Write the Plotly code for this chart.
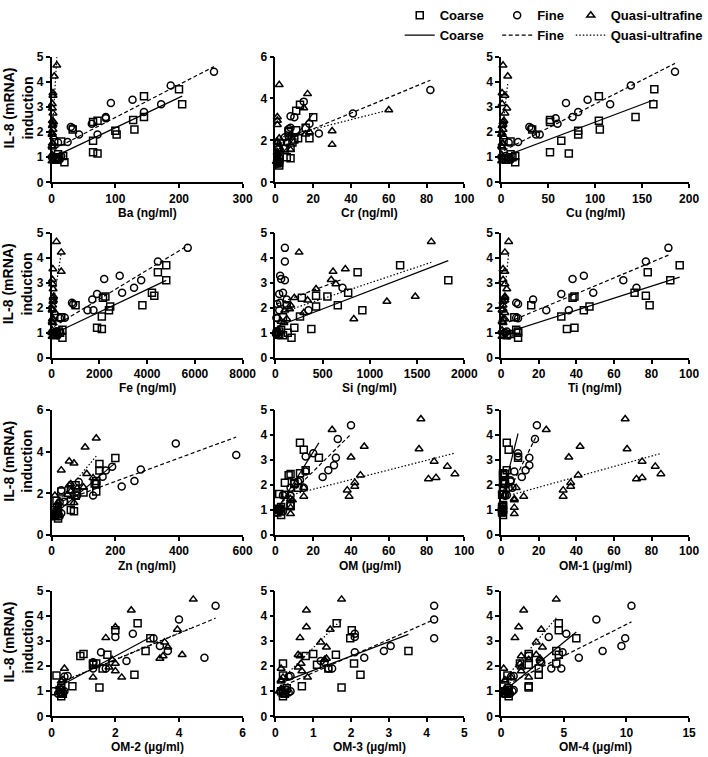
import numpy as np
import plotly.graph_objects as go

W, H = 708, 757

# ---- IL-8 (mRNA) induction values per sample (shared by all panels) ----
coarse_y = [3.70, 3.42, 3.10, 2.60, 2.48, 2.45, 2.40, 2.10, 2.10, 2.05, 1.90,
            1.65, 1.62, 1.20, 1.15, 1.12, 1.05, 1.00, 0.95, 0.90, 0.80]
fine_y = [4.40, 3.85, 3.28, 3.15, 3.10, 2.80, 2.60, 2.55, 2.33, 2.20, 2.15,
          1.90, 1.90, 1.60, 1.58, 1.05, 1.00, 0.95, 0.90]
quasi_y = [4.65, 4.22, 3.55, 3.45, 3.12, 2.95, 2.75, 2.45, 2.40, 2.30, 2.25,
           2.10, 1.95, 1.90, 1.80, 1.55, 1.55, 1.45, 1.40, 1.10, 1.00, 0.85]

# ---- constituent concentrations (x) per panel ----
ba_c = [200, 145, 205, 145, 128, 72, 65, 130, 33, 100, 102, 65, 15, 65, 72, 10, 18, 12, 8, 5, 20]
ba_f = [255, 187, 127, 93, 172, 145, 85, 85, 63, 30, 33, 43, 72, 25, 10, 15, 8, 5, 12]
ba_q = [8, 4, 2, 2, 1, 1, 2, 1, 3, 2, 1, 2, 1, 0.5, 3, 2, 1, 0.5, 1, 0.5, 1, 0.5]

cr_c = [13, 11, 20, 16, 11, 7, 7, 12, 18, 10, 9, 8, 5, 6, 8, 2, 1, 1, 2, 1, 2]
cr_f = [82, 15, 41, 8, 10, 18, 8, 7, 23, 7, 5, 3, 6, 2, 1, 1, 1, 2, 1]
cr_q = [2, 17, 15, 60, 1, 1, 1, 30, 18, 16, 8, 2, 1, 1, 30, 8, 3, 1, 1, 1, 0.5, 1]

cu_c = [163, 104, 162, 143, 52, 104, 52, 105, 33, 82, 82, 64, 10, 52, 72, 10, 15, 12, 8, 5, 15]
cu_f = [185, 138, 92, 69, 116, 82, 76, 58, 60, 30, 32, 37, 41, 18, 8, 5, 7, 3, 10]
cu_q = [2, 7, 1, 4, 1, 6, 4, 3, 2, 2, 1, 2, 1, 0.5, 3, 2, 1, 0.5, 1, 0.5, 1, 0.5]

fe_c = [4800, 4450, 4800, 4200, 4300, 2250, 2150, 3800, 1000, 2450, 2400, 2100, 400, 1900, 2100, 450, 300, 350, 200, 100, 450]
fe_f = [5700, 4450, 2850, 2200, 3750, 3450, 2950, 1900, 1700, 850, 900, 1500, 1750, 550, 350, 200, 150, 100, 250]
fe_q = [200, 400, 50, 400, 30, 40, 60, 80, 60, 70, 50, 40, 30, 20, 150, 60, 30, 20, 30, 20, 10, 20]

si_c = [1320, 870, 1830, 770, 430, 550, 280, 660, 120, 430, 920, 260, 80, 200, 380, 60, 40, 130, 30, 80, 170]
si_f = [100, 100, 50, 60, 100, 710, 80, 40, 120, 50, 20, 350, 40, 10, 20, 10, 20, 5, 30]
si_q = [1650, 250, 740, 610, 590, 640, 430, 1480, 200, 340, 1180, 160, 150, 100, 300, 830, 120, 60, 90, 30, 20, 40]

ti_c = [95, 78, 90, 71, 77, 39, 38, 79, 16, 47, 44, 32, 7, 39, 35, 8, 9, 9, 5, 3, 9]
ti_f = [89, 77, 44, 38, 65, 72, 49, 32, 17, 8, 9, 24, 36, 8, 9, 3, 2, 1, 4]
ti_q = [4, 2, 1, 2, 1, 2, 3, 2, 2, 2, 1, 1, 1, 0.5, 2, 2, 1, 0.5, 1, 0.5, 1, 0.5]

zn_c = [200, 150, 150, 140, 135, 140, 75, 140, 30, 100, 75, 15, 60, 60, 70, 15, 20, 15, 10, 10, 20]
zn_f = [390, 580, 190, 280, 170, 160, 260, 85, 220, 60, 30, 130, 80, 40, 25, 30, 20, 15, 25]
zn_q = [140, 105, 55, 70, 30, 110, 130, 60, 55, 100, 80, 60, 50, 10, 75, 70, 20, 15, 20, 10, 10, 10]

om_c = [13, 15, 23, 16, 13, 8, 7, 10, 5, 10, 12, 2, 5, 8, 8, 3, 2, 2, 3, 1, 3]
om_f = [40, 33, 20, 16, 32, 31, 28, 16, 25, 13, 12, 15, 8, 4, 8, 3, 2, 4, 1]
om_q = [77, 30, 47, 76, 40, 84, 91, 95, 45, 85, 81, 42, 42, 15, 38, 39, 15, 8, 9, 8, 2, 8]

om1_c = [3, 4, 9, 3, 1, 2, 1, 2, 1, 2, 1, 1, 0.5, 1, 1, 0.5, 0.5, 1, 0.5, 0.5, 1]
om1_f = [19, 18, 9, 9, 15, 15, 13, 7, 11, 5, 5, 4, 6, 3, 2, 1, 1, 0.5, 1]
om1_q = [66, 24, 42, 67, 36, 75, 82, 85, 41, 75, 72, 37, 37, 8, 33, 33, 12, 7, 7, 7, 1, 7]

om2_c = [2.7, 2.0, 3.1, 2.95, 1.0, 1.75, 0.9, 1.3, 1.4, 1.3, 1.6, 2.6, 0.15, 0.65, 1.5, 0.3, 0.25, 0.1, 0.3, 0.35, 0.3]
om2_f = [5.15, 4.0, 2.55, 2.0, 3.2, 3.4, 3.65, 1.55, 4.8, 2.35, 1.3, 1.7, 1.3, 0.5, 0.4, 0.3, 0.4, 0.3, 0.2]
om2_q = [4.45, 2.5, 2.0, 3.95, 1.7, 3.55, 3.65, 4.1, 3.5, 3.4, 1.9, 2.0, 1.8, 0.4, 2.0, 2.2, 1.3, 0.35, 0.3, 0.3, 0.25, 0.3]

om3_c = [1.62, 2.02, 1.98, 3.52, 1.0, 1.6, 0.8, 2.08, 0.2, 1.1, 1.4, 2.25, 0.2, 0.7, 1.75, 0.3, 0.25, 0.15, 0.2, 0.25, 0.2]
om3_f = [4.2, 4.2, 2.1, 2.1, 4.2, 3.05, 2.87, 2.1, 2.35, 1.2, 1.3, 1.5, 1.4, 0.4, 0.35, 0.3, 0.4, 0.35, 0.25]
om3_q = [1.75, 0.82, 0.82, 1.45, 0.65, 1.2, 1.35, 0.6, 0.65, 1.35, 1.3, 0.68, 0.6, 0.15, 0.7, 0.85, 0.2, 0.15, 0.15, 0.15, 0.1, 0.2]

om4_c = [4.6, 4.6, 6.0, 4.4, 2.2, 4.6, 2.2, 4.4, 1.5, 2.2, 3.0, 3.0, 0.5, 2.2, 2.2, 0.6, 0.5, 0.3, 0.6, 0.4, 0.6]
om4_f = [10.4, 7.6, 5.2, 3.8, 9.9, 9.6, 8.1, 4.9, 6.2, 3.1, 3.2, 4.0, 4.8, 1.0, 0.8, 1.0, 0.9, 0.5, 0.7]
om4_q = [4.4, 1.8, 1.4, 3.2, 1.1, 2.8, 3.3, 2.8, 1.6, 3.1, 2.2, 1.5, 1.6, 0.2, 1.6, 2.2, 0.8, 0.3, 0.3, 0.3, 0.2, 0.3]

panel_titles = ["Ba (ng/ml)", "Cr (ng/ml)", "Cu (ng/ml)",
                "Fe (ng/ml)", "Si (ng/ml)", "Ti (ng/ml)",
                "Zn (ng/ml)", "OM (µg/ml)", "OM-1 (µg/ml)",
                "OM-2 (µg/ml)", "OM-3 (µg/ml)", "OM-4 (µg/ml)"]
x_max = [300, 100, 200, 8000, 2000, 100, 600, 100, 100, 6, 5, 15]
x_dtick = [100, 20, 50, 2000, 500, 20, 200, 20, 20, 2, 1, 5]
y_max = [5, 6, 5, 5, 5, 5, 6, 5, 5, 5, 5, 5]
y_dtick = [1, 2, 1, 1, 1, 1, 2, 1, 1, 1, 1, 1]
panel_x = [(ba_c, ba_f, ba_q), (cr_c, cr_f, cr_q), (cu_c, cu_f, cu_q),
           (fe_c, fe_f, fe_q), (si_c, si_f, si_q), (ti_c, ti_f, ti_q),
           (zn_c, zn_f, zn_q), (om_c, om_f, om_q), (om1_c, om1_f, om1_q),
           (om2_c, om2_f, om2_q), (om3_c, om3_f, om3_q), (om4_c, om4_f, om4_q)]

fractions = ["Coarse", "Fine", "Quasi-ultrafine"]
frac_y = [coarse_y, fine_y, quasi_y]
symbols = ["square-open", "circle-open", "triangle-up-open"]
dashes = ["solid", "4px,2.5px", "1.5px,2px"]
legend_ids = ["legend", "legend2", "legend3"]

# layout geometry (pixels)
cols_px = [(52, 244), (277, 467), (504, 693)]
rows_px = [(50, 177), (228, 354), (407, 533), (589, 716)]

FONT = "Liberation Sans, Arial, sans-serif"

fig = go.Figure()
layout = dict(
    width=W, height=H, margin=dict(l=0, r=0, t=0, b=0),
    paper_bgcolor="white", plot_bgcolor="white",
    font=dict(family=FONT, color="black", size=12, weight="bold"),
    annotations=[],
)

for i in range(12):
    r, c = divmod(i, 3)
    n = "" if i == 0 else str(i + 1)
    xa, ya = "x" + n, "y" + n
    x0, x1 = cols_px[c]
    y0, y1 = rows_px[r]
    common = dict(showgrid=False, zeroline=False, showline=True, linecolor="black",
                  linewidth=1.6, ticks="outside", ticklen=4, tickwidth=1.6,
                  tickcolor="black", automargin=False,
                  tickfont=dict(family=FONT, size=12, color="black", weight="bold"))
    layout["xaxis" + n] = dict(domain=[x0 / W, x1 / W], range=[0, x_max[i]],
                               dtick=x_dtick[i], tick0=0, anchor=ya, **common)
    layout["yaxis" + n] = dict(domain=[1 - y1 / H, 1 - y0 / H], range=[0, y_max[i]],
                               dtick=y_dtick[i], tick0=0, anchor=xa, **common)
    layout["annotations"].append(dict(
        text=panel_titles[i], xref="paper", yref="paper",
        x=(x0 + x1) / 2 / W, y=1 - (y1 + 31) / H, showarrow=False,
        xanchor="center", yanchor="middle",
        font=dict(family=FONT, size=12, color="black", weight="bold")))
    if c == 0:
        layout["annotations"].append(dict(
            text="IL-8 (mRNA)<br>induction", xref="paper", yref="paper",
            x=18 / W, y=1 - ((y0 + y1) / 2 - 12) / H, showarrow=False, textangle=-90,
            xanchor="center", yanchor="middle",
            font=dict(family=FONT, size=14, color="black", weight="bold")))

    for k in range(3):
        xs = np.array(panel_x[i][k], dtype=float)
        ys = np.array(frac_y[k], dtype=float)
        fig.add_trace(go.Scatter(
            x=xs, y=ys, mode="markers", xaxis=xa, yaxis=ya, cliponaxis=False,
            name=fractions[k], showlegend=(i == 0), legend=legend_ids[k],
            marker=dict(symbol=symbols[k], size=7, color="black",
                        line=dict(width=1.5, color="black"))))
    for k in range(3):
        xs = np.array(panel_x[i][k], dtype=float)
        ys = np.array(frac_y[k], dtype=float)
        slope, inter = np.polyfit(xs, ys, 1)
        lx = np.array([xs.min(), xs.max()])
        fig.add_trace(go.Scatter(
            x=lx, y=slope * lx + inter, mode="lines", xaxis=xa, yaxis=ya,
            name=fractions[k], showlegend=(i == 0), legend=legend_ids[k],
            line=dict(color="black", width=1.2, dash=dashes[k])))

legend_font = dict(family=FONT, size=13, color="black", weight="bold")
for lid, lx in zip(legend_ids, [402, 500, 574]):
    layout[lid] = dict(orientation="v", x=lx / W, xanchor="left",
                       y=1 - 18.5 / H, yanchor="middle", font=legend_font,
                       bgcolor="rgba(0,0,0,0)", itemclick=False,
                       traceorder="normal", tracegroupgap=0)

fig.update_layout(**layout)
fig.write_html("out.html",
               config={"displayModeBar": False},
               post_script="document.body.style.margin='0';"
                           "document.body.style.overflow='hidden';")
